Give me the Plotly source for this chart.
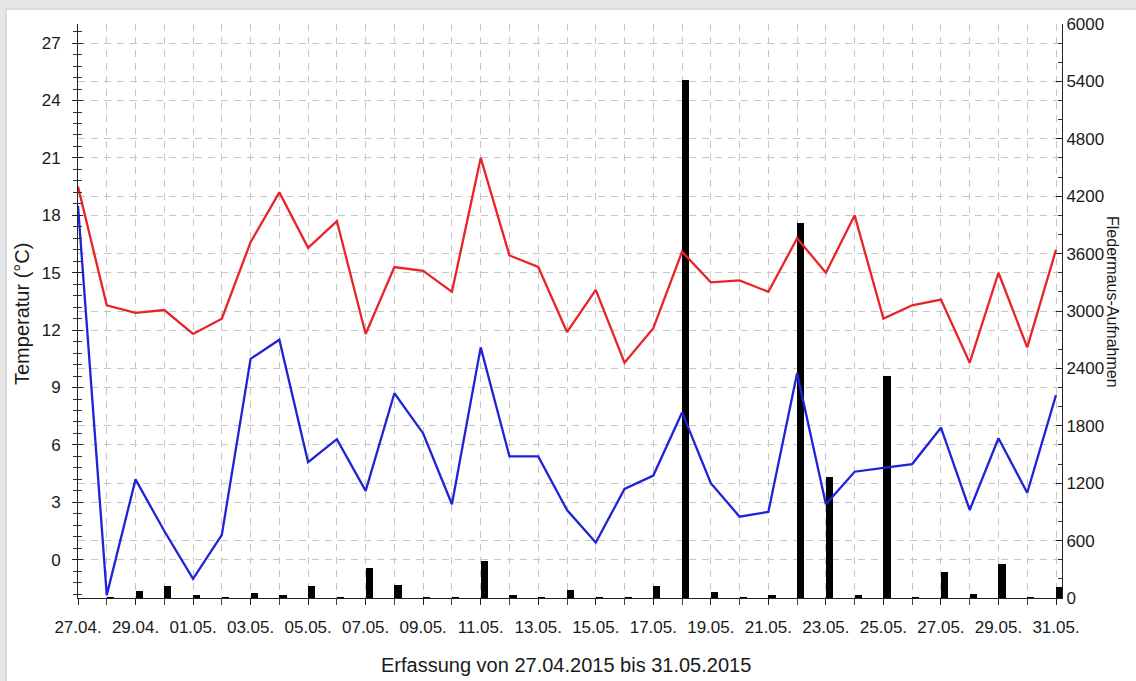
import plotly.graph_objects as go

dates = ["2015-04-27", "2015-04-28", "2015-04-29", "2015-04-30", "2015-05-01",
         "2015-05-02", "2015-05-03", "2015-05-04", "2015-05-05", "2015-05-06",
         "2015-05-07", "2015-05-08", "2015-05-09", "2015-05-10", "2015-05-11",
         "2015-05-12", "2015-05-13", "2015-05-14", "2015-05-15", "2015-05-16",
         "2015-05-17", "2015-05-18", "2015-05-19", "2015-05-20", "2015-05-21",
         "2015-05-22", "2015-05-23", "2015-05-24", "2015-05-25", "2015-05-26",
         "2015-05-27", "2015-05-28", "2015-05-29", "2015-05-30", "2015-05-31"]

temp_max = [19.5, 13.3, 12.9, 13.05, 11.8, 12.6, 16.6, 19.2, 16.3, 17.7,
            11.8, 15.3, 15.1, 14.0, 21.0, 15.9, 15.3, 11.9, 14.1, 10.3,
            12.1, 16.1, 14.5, 14.6, 14.0, 16.8, 15.0, 18.0, 12.6, 13.3,
            13.6, 10.3, 15.0, 11.1, 16.2]

temp_min = [18.5, -1.85, 4.2, 1.5, -1.0, 1.3, 10.5, 11.5, 5.1, 6.3,
            3.6, 8.7, 6.6, 2.9, 11.1, 5.4, 5.4, 2.6, 0.9, 3.7,
            4.4, 7.7, 4.0, 2.25, 2.5, 9.75, 2.9, 4.6, 4.8, 5.0,
            6.9, 2.6, 6.35, 3.5, 8.6]

recordings = [0, 10, 70, 130, 35, 10, 50, 30, 130, 10,
              310, 140, 10, 10, 390, 30, 10, 80, 10, 10,
              130, 5410, 60, 10, 28, 3920, 1260, 28, 2320, 10,
              270, 45, 360, 10, 110]

temp_ticks = [0, 3, 6, 9, 12, 15, 18, 21, 24, 27]
count_ticks = [0, 600, 1200, 1800, 2400, 3000, 3600, 4200, 4800, 5400, 6000]

FONT = "Liberation Sans, Arial, Helvetica, sans-serif"
GRID = "#c6c6c6"
DASH = "7px,6px"
DAY_MS = 86400000

fig = go.Figure()

fig.add_trace(go.Bar(
    x=dates, y=recordings, yaxis="y",
    marker=dict(color="black", line=dict(width=0)),
    width=DAY_MS * 0.25, offset=0, showlegend=False,
))
fig.add_trace(go.Scatter(
    x=dates, y=temp_max, yaxis="y2", mode="lines",
    line=dict(color="#e8232a", width=2.3), showlegend=False,
))
fig.add_trace(go.Scatter(
    x=dates, y=temp_min, yaxis="y2", mode="lines",
    line=dict(color="#1f22d8", width=2.3), showlegend=False,
))
fig.add_trace(go.Scatter(x=[dates[0]], y=[None], yaxis="y3", mode="lines",
                         showlegend=False, hoverinfo="skip"))

W, H = 1136, 681
L, R, T, B = 78, 74, 24, 83
pw, ph = W - L - R, H - T - B

def px_x(x):
    return (x - L) / pw

def px_y(y):
    return (H - B - y) / ph

fig.update_layout(
    width=W, height=H,
    margin=dict(l=L, r=R, t=T, b=B, pad=0, autoexpand=False),
    paper_bgcolor="#e6e6e6",
    plot_bgcolor="rgba(0,0,0,0)",
    font=dict(family=FONT, size=17, color="#1a1a1a"),
    bargap=0,
    xaxis=dict(
        type="date", automargin=False,
        range=["2015-04-27", "2015-05-31 05:00"],
        tick0="2015-04-27", dtick=2 * DAY_MS, tickformat="%d.%m.",
        ticks="outside", ticklen=6, tickcolor="#222", tickwidth=1,
        ticklabelstandoff=8,
        showline=True, linecolor="#222", linewidth=1,
        showgrid=True, gridcolor=GRID, griddash=DASH, gridwidth=1,
        zeroline=False,
        minor=dict(dtick=DAY_MS, tick0="2015-04-27", ticks="outside", ticklen=6,
                   tickcolor="#444", showgrid=True, gridcolor=GRID, griddash=DASH),
    ),
    yaxis=dict(
        side="right", range=[0, 6000], automargin=False,
        tickvals=count_ticks, ticktext=[str(v) for v in count_ticks],
        ticks="inside", ticklen=6, tickcolor="#222",
        showline=True, linecolor="#222", linewidth=1,
        showgrid=True, gridcolor=GRID, griddash=DASH,
        zeroline=False,
        minor=dict(dtick=200, tick0=0, ticks="inside", ticklen=4, tickcolor="#333",
                   showgrid=False),
    ),
    yaxis2=dict(
        side="left", overlaying="y", range=[-2, 28], automargin=False,
        tickvals=temp_ticks, ticktext=[str(v) for v in temp_ticks],
        ticks="outside", ticklen=5, tickcolor="#222",
        ticklabelstandoff=8,
        showline=True, linecolor="#222", linewidth=1,
        showgrid=True, gridcolor=GRID, griddash=DASH,
        zeroline=False,
        minor=dict(dtick=0.6, tick0=0, ticks="outside", ticklen=4, tickcolor="#333",
                   showgrid=False),
    ),
    yaxis3=dict(
        side="left", overlaying="y", range=[-2, 28], automargin=False,
        tickvals=temp_ticks, showticklabels=False,
        ticks="inside", ticklen=5, tickcolor="#222",
        showline=False, showgrid=False, zeroline=False,
        minor=dict(dtick=0.6, tick0=0, ticks="inside", ticklen=4, tickcolor="#333",
                   showgrid=False),
    ),
    shapes=[
        dict(type="rect", xref="paper", yref="paper", layer="below",
             x0=px_x(5), x1=px_x(1200), y0=px_y(760), y1=px_y(8),
             fillcolor="#dadada", line=dict(width=0)),
        dict(type="rect", xref="paper", yref="paper", layer="below",
             x0=px_x(7), x1=px_x(1200), y0=px_y(760), y1=px_y(10),
             fillcolor="white", line=dict(width=0)),
    ],
    annotations=[
        dict(text="Temperatur (°C)", xref="paper", yref="paper",
             x=px_x(22), y=px_y(314), textangle=-90, showarrow=False,
             xanchor="center", yanchor="middle", font=dict(size=20)),
        dict(text="Fledermaus-Aufnahmen", xref="paper", yref="paper",
             x=px_x(1113), y=px_y(302), textangle=90, showarrow=False,
             xanchor="center", yanchor="middle", font=dict(size=16)),
        dict(text="Erfassung von 27.04.2015 bis 31.05.2015", xref="paper", yref="paper",
             x=px_x(566), y=px_y(665), showarrow=False,
             xanchor="center", yanchor="middle", font=dict(size=20)),
    ],
)

fig.write_html(
    "out.html",
    config={"displayModeBar": False},
    post_script="document.body.style.margin='0';document.body.style.overflow='hidden';",
)
